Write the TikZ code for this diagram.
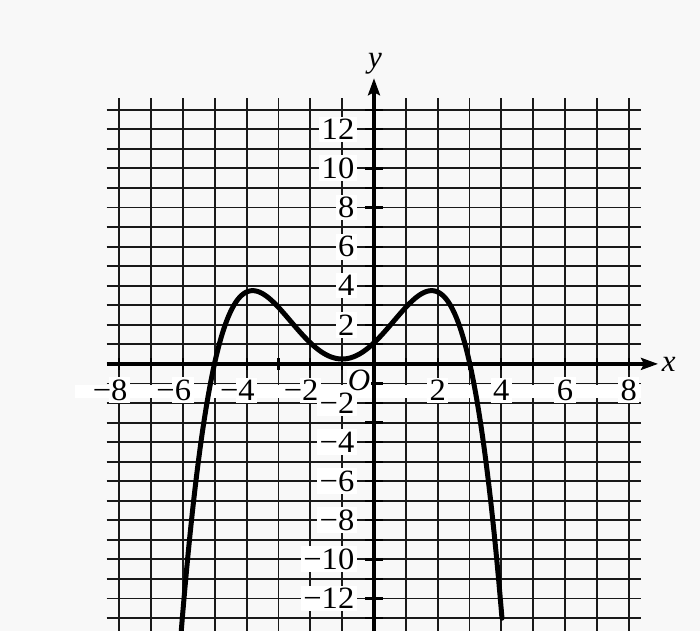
\documentclass[tikz,border=0pt]{standalone}
\usepackage{fontspec}
\setmainfont{Liberation Serif}
\usetikzlibrary{arrows.meta}
\definecolor{bgc}{RGB}{248,248,248}
\begin{document}
\begin{tikzpicture}[x=31.84pt,y=19.55pt,
  gridline/.style={line width=1.9pt, black!90},
  axisline/.style={line width=3.2pt, black},
  tickmark/.style={line width=2.2pt, black},
  curveline/.style={line width=5pt, line cap=round, line join=round, black},
  numlab/.style={fill=white, inner sep=2.5pt, font=\fontsize{31}{33}\selectfont},
  varlab/.style={inner sep=1pt, font=\fontsize{31}{33}\selectfont\itshape},
  axtip/.style={-{Stealth[length=17pt,width=12pt,inset=3pt]}}]
\fill[bgc] (-11.746,-13.662) rectangle (10.239,18.614);
\useasboundingbox (-11.746,-13.662) rectangle (10.239,18.614);
% grid
\foreach \y in {-13,...,13} \draw[gridline] (-8.4,\y) -- (8.4,\y);
\foreach \x in {-8,...,8} \draw[gridline] (\x,-13.8) -- (\x,13.6);
% white band of the x labels
\fill[white] (-9.4,-1.08) rectangle (8.4,-1.75);
% axes
\coordinate (xstart) at (-8.4,0);
\coordinate (xend) at (8.92,0);
\coordinate (ystart) at (0,-13.8);
\coordinate (yend) at (0,14.61);
\draw[axisline,axtip] (xstart) -- (xend);
\draw[axisline,axtip] (ystart) -- (yend);
\foreach \y in {-13,...,13} \draw[tickmark] (-0.28,\y) -- (0.28,\y);
\foreach \x in {-8,...,8} \draw[tickmark] (\x,-0.3) -- (\x,0.3);
% curve
\draw[curveline] plot[domain=-6.06:4.02, samples=240, smooth]
  (\x,{-0.056*(\x+1)*(\x+1)*(\x+1)*(\x+1) + 0.885*(\x+1)*(\x+1) + 0.25});
% y labels
\foreach \v/\t [count=\i] in {12/12,10/10,8/8,6/6,4/4,2/2,-2/−2,-4/−4,-6/−6,-8/−8,-10/−10,-12/−12}
  \node[numlab, anchor=east] (yl\i) at (-0.534,\v) {\scalebox{1.05}[1]{\t}};
% x labels
\foreach \v/\t [count=\i] in {-8/\llap{−}8,-6/\llap{−}6,-4/\llap{−}4,-2/\llap{−}2,2/2,4/4,6/6,8/8}
  \node[numlab] (xl\i) at (\v,-1.35) {\scalebox{1.05}[1]{\t}};
\node[varlab, fill=white] (orig) at (-0.47,-0.82) {O};
\node[varlab, anchor=west] (xname) at (9.0,0) {x};
\node[varlab] (yname) at (0.03,15.37) {y};
\end{tikzpicture}
\end{document}
